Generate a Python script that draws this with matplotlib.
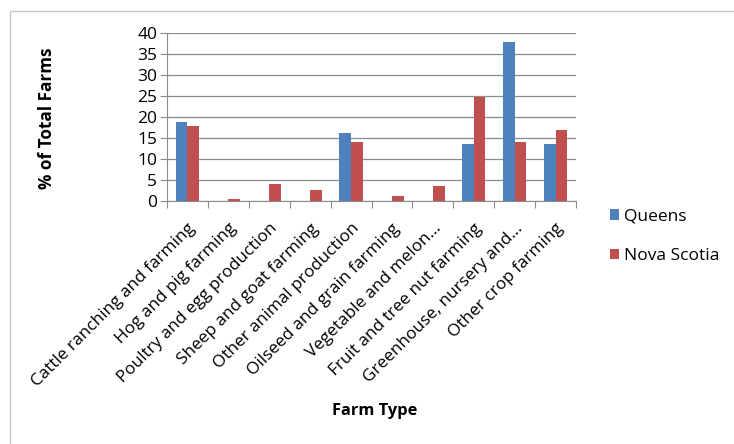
import numpy as np
import matplotlib
matplotlib.use("Agg")
import matplotlib.pyplot as plt
from matplotlib.patches import Rectangle

categories = ["Cattle ranching and farming", "Hog and pig farming",
              "Poultry and egg production", "Sheep and goat farming",
              "Other animal production", "Oilseed and grain farming",
              "Vegetable and melon...", "Fruit and tree nut farming",
              "Greenhouse, nursery and...", "Other crop farming"]
queens = [18.8, 0, 0, 0, 16.3, 0, 0, 13.5, 37.8, 13.5]
nova_scotia = [17.9, 0.5, 4.0, 2.7, 14.1, 1.3, 3.6, 24.8, 14.1, 17.0]
yticks = [0, 5, 10, 15, 20, 25, 30, 35, 40]

plt.rcParams['font.family'] = ['Open Sans', 'DejaVu Sans']

fig = plt.figure(figsize=(7.34, 4.44), dpi=100)
ax = fig.add_axes([167/734, 1 - 201/444, (576-167)/734, (201-33)/444])

# chart border
fig.patches.append(Rectangle((10/734, -0.05), 1.1, 1 - 11/444 + 0.05,
                             transform=fig.transFigure, fill=False,
                             edgecolor="#c8c8c8", linewidth=1))

x = np.arange(len(categories))
w = 0.286
ax.bar(x - w/2, queens, w, color="#4f81bd", label="Queens", zorder=3)
ax.bar(x + w/2, nova_scotia, w, color="#c0504d", label="Nova Scotia", zorder=3)

ax.set_xlim(-0.5, len(categories) - 0.5)
ax.set_ylim(0, 40)
ax.set_yticks(yticks)
ax.set_yticklabels([str(t) for t in yticks], fontsize=12.5)
ax.grid(axis="y", color="#8c8c8c", linewidth=0.9, zorder=0)

ax.set_xticks(np.arange(-0.5, len(categories), 1))
ax.set_xticklabels([])
ax.set_xticks(x, minor=True)
ax.set_xticklabels(categories, minor=True, rotation=45, ha="right",
                   rotation_mode="anchor", fontsize=12.3)
ax.tick_params(axis="x", which="minor", length=0, pad=14)
ax.tick_params(axis="x", which="major", length=5, color="#8c8c8c")
ax.tick_params(axis="y", length=5, color="#8c8c8c", pad=2)

for s in ["top", "right"]:
    ax.spines[s].set_visible(False)
for s in ["left", "bottom"]:
    ax.spines[s].set_color("#8c8c8c")

fig.text(47/734, 1 - 118/444, "% of Total Farms", rotation=90, ha="center",
         va="center", fontsize=12.3, fontweight="bold")
fig.text(375/734, 1 - 411/444, "Farm Type", ha="center", va="center",
         fontsize=11.8, fontweight="bold")

ax.legend(loc="upper left", bbox_to_anchor=(594/734, 1 - 193/444),
          bbox_transform=fig.transFigure, frameon=False, fontsize=12.5,
          handlelength=0.55, handleheight=0.55, handletextpad=0.3,
          labelspacing=1.35)

fig.savefig("out.png", dpi=100)
